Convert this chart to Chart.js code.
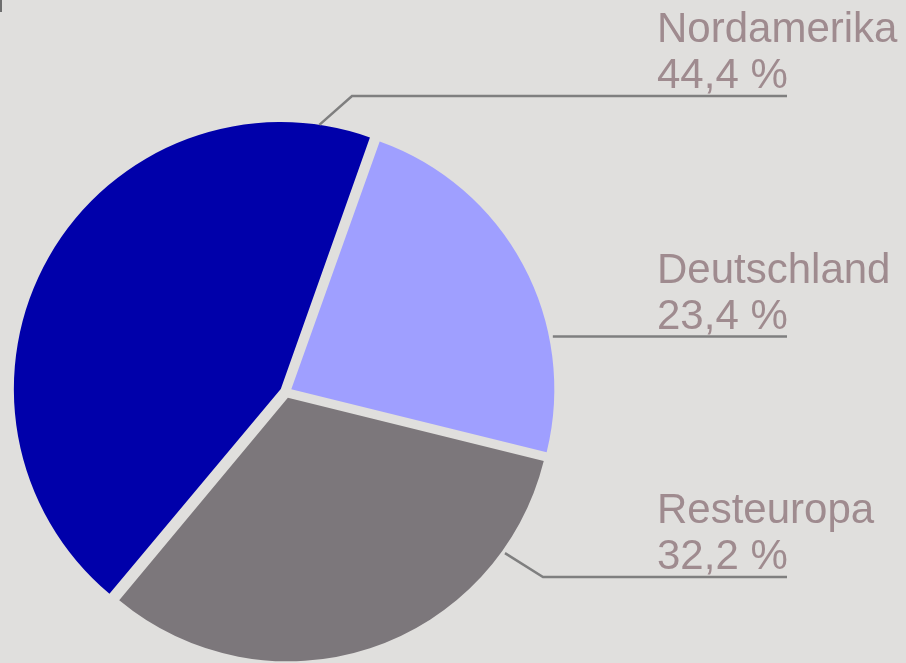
<!DOCTYPE html>
<html lang="de">
<head>
<meta charset="utf-8">
<title>Umsatz nach Regionen</title>
<script src="https://cdn.jsdelivr.net/npm/chart.js@4.4.1/dist/chart.umd.min.js"></script>
<style>
  html, body { margin: 0; padding: 0; background: #e0dfdd; }
  #wrap { position: relative; width: 906px; height: 663px; overflow: hidden; }
  #mark { position: absolute; left: 0; top: 0; width: 2px; height: 12px; background: #6e6e6e; }
</style>
</head>
<body>
<div id="wrap">
  <canvas id="pieChart"></canvas>
  <div id="mark"></div>
</div>
<script>
// data
const regions = ['Nordamerika', 'Deutschland', 'Resteuropa'];
const shares = [44.4, 23.4, 32.2];
const sliceColors = ['#0000aa', '#9f9fff', '#7c777b'];

// label layout (leader anchor angle from top, clockwise; elbow x; underline y)
const anchorAngles = [8.3, 78.4, 125.6];
const elbowX = [352, null, 543];
const lineY = [96, 336.5, 577];
const textX = 657;
const lineEnd = 787;
const sliceOffset = 24; // chart.js divides by 4 when drawing

const fmt = v => v.toLocaleString('de-DE', { minimumFractionDigits: 1, maximumFractionDigits: 1 }) + ' %';

const sliceLabels = {
  id: 'sliceLabels',
  afterDatasetsDraw(chart) {
    const ctx = chart.ctx;
    const arcs = chart.getDatasetMeta(0).data;
    ctx.save();
    arcs.forEach((arc, i) => {
      const { x, y, outerRadius, startAngle, endAngle } =
        arc.getProps(['x', 'y', 'outerRadius', 'startAngle', 'endAngle'], true);
      const mid = (startAngle + endAngle) / 2;
      const shift = sliceOffset / 4;
      const cx = x + Math.cos(mid) * shift;
      const cy = y + Math.sin(mid) * shift;
      const a = anchorAngles[i] * Math.PI / 180 - Math.PI / 2;
      const r = outerRadius + 4;
      const sx = cx + Math.cos(a) * r;
      const sy = cy + Math.sin(a) * r;

      ctx.strokeStyle = '#7f7f7f';
      ctx.lineWidth = 2.5;
      ctx.beginPath();
      if (elbowX[i] === null) {
        ctx.moveTo(sx, lineY[i]);
      } else {
        ctx.moveTo(sx, sy);
        ctx.lineTo(elbowX[i], lineY[i]);
      }
      ctx.lineTo(lineEnd, lineY[i]);
      ctx.stroke();

      ctx.fillStyle = '#9f8b8f';
      ctx.font = '42px "Liberation Sans", Arial, sans-serif';
      ctx.textAlign = 'left';
      ctx.textBaseline = 'alphabetic';
      ctx.fillText(chart.data.labels[i], textX, lineY[i] - 54);
      ctx.fillText(fmt(shares[i]), textX, lineY[i] - 8);
    });
    ctx.restore();
  }
};

const canvas = document.getElementById('pieChart');
new Chart(canvas, {
  type: 'pie',
  data: {
    labels: regions,
    datasets: [{
      data: shares,
      backgroundColor: sliceColors,
      borderWidth: 0,
      offset: sliceOffset,
      clip: false
    }]
  },
  options: {
    responsive: true,
    maintainAspectRatio: false,
    animation: false,
    rotation: 219.8,
    radius: 263,
    layout: { padding: { left: 0, right: 334, top: 121, bottom: 0 } },
    plugins: {
      legend: { display: false },
      tooltip: { enabled: false }
    }
  },
  plugins: [sliceLabels]
});
</script>
</body>
</html>
